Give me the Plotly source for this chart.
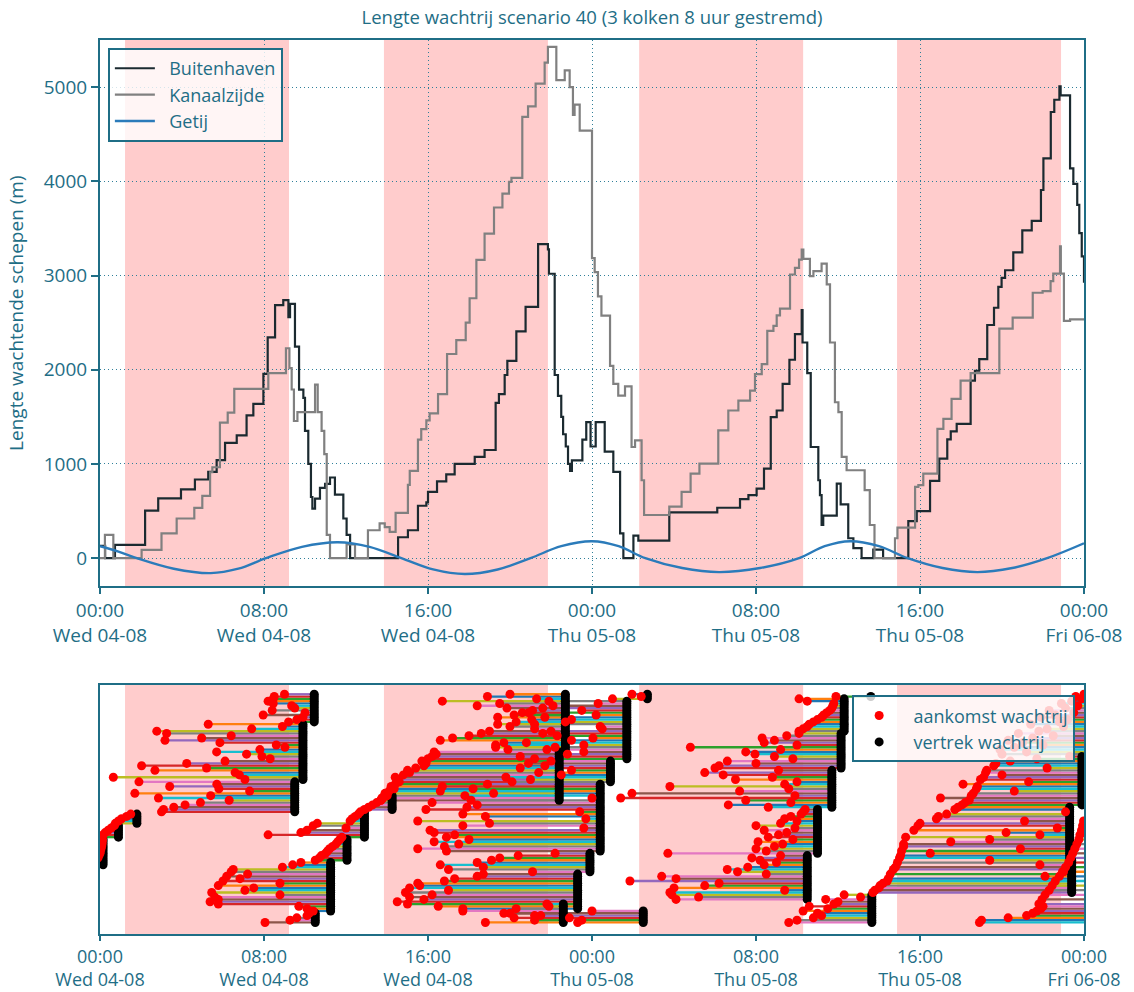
import plotly.graph_objects as go

# ---------------- data ----------------
TICK_HOURS = [0, 8, 16, 24, 32, 40, 48]
TICK_TEXT = ["00:00<br>Wed 04-08", "08:00<br>Wed 04-08", "16:00<br>Wed 04-08",
             "00:00<br>Thu 05-08", "08:00<br>Thu 05-08", "16:00<br>Thu 05-08",
             "00:00<br>Fri 06-08"]

BLOCK_START = [1.22, 13.85, 26.3, 38.88]
BLOCK_END = [9.22, 21.85, 34.3, 46.88]

BUITEN_H = [0.0, 0.25, 0.73, 2.2, 2.84, 3.95, 4.63, 5.28, 5.69, 6.1,
            6.67, 7.15, 7.48, 7.97, 8.18, 8.54, 8.94, 9.19, 9.27, 9.51,
            9.71, 9.92, 10.0, 10.16, 10.29, 10.36, 10.49, 10.73, 10.98, 11.22,
            11.46, 11.87, 12.03, 12.2, 14.54, 15.02, 15.51, 15.92, 16.0, 16.44,
            16.89, 17.3, 18.28, 18.76, 19.3, 19.46, 19.74, 19.87, 20.31, 20.76,
            21.37, 21.85, 21.9, 22.18, 22.34, 22.5, 22.59, 22.72, 22.83, 22.93,
            23.02, 23.53, 23.72, 23.93, 24.18, 24.62, 25.04, 25.37, 25.53, 26.02,
            26.26, 27.77, 30.11, 31.22, 31.63, 32.03, 32.39, 32.72, 33.01, 33.3,
            33.63, 33.9, 34.23, 34.27, 34.5, 34.67, 35.04, 35.12, 35.2, 35.28,
            35.94, 36.13, 36.5, 36.75, 37.15, 37.72, 38.2, 39.43, 39.84, 40.49,
            40.94, 41.33, 41.5, 41.79, 42.47, 42.68, 42.89, 43.28, 43.61, 43.82,
            43.98, 44.15, 44.55, 44.99, 45.45, 45.9, 46.02, 46.38, 46.55, 46.8,
            46.86, 47.32, 47.48, 47.67, 47.77, 47.89, 48.0]
BUITEN_V = [130, 0, 140, 504, 634, 729, 835, 916, 1040, 1223,
            1304, 1515, 1638, 1956, 2343, 2685, 2738, 2558, 2700, 2246,
            1789, 1702, 1351, 1000, 649, 526, 632, 747, 789, 856,
            674, 421, 246, 0, 222, 296, 556, 593, 704, 815,
            889, 1000, 1074, 1148, 1648, 1741, 1944, 2093, 2407, 2667,
            3333, 3278, 3019, 1944, 1722, 1500, 1315, 1185, 1000, 926,
            1037, 1259, 1444, 1185, 1444, 1130, 915, 264, 0, 239,
            187, 486, 535, 627, 669, 739, 951, 1496, 1567, 1849,
            2106, 2377, 2634, 2289, 1965, 1180, 827, 669, 352, 451,
            792, 570, 211, 106, 0, 90, 0, 394, 500, 820,
            1056, 1261, 1345, 1426, 1884, 1989, 2113, 2475, 2658, 2880,
            2975, 3056, 3246, 3479, 3581, 3908, 4243, 4736, 4866, 5007,
            4912, 4137, 3972, 3750, 3451, 3204, 2923]

KANAAL_H = [0.0, 0.24, 0.65, 2.03, 3.0, 3.74, 4.6, 4.99, 5.37, 5.48,
            5.85, 6.23, 6.55, 8.21, 9.07, 9.24, 9.35, 9.46, 9.63, 10.49,
            10.62, 10.81, 10.94, 11.06, 11.22, 12.03, 12.44, 13.07, 13.64, 13.89,
            14.13, 14.42, 15.02, 15.11, 15.51, 15.67, 15.92, 16.08, 16.49, 16.93,
            17.38, 17.84, 18.03, 18.36, 18.76, 19.22, 19.63, 19.95, 20.07, 20.6,
            20.88, 21.25, 21.69, 21.85, 22.26, 22.67, 22.91, 23.07, 23.15, 23.4,
            24.0, 24.13, 24.29, 24.46, 24.88, 25.04, 25.28, 25.61, 25.93, 26.1,
            26.42, 26.54, 27.77, 28.37, 28.81, 29.24, 30.16, 30.65, 31.14, 31.71,
            31.95, 32.28, 32.55, 32.85, 33.01, 33.17, 33.66, 33.9, 34.1, 34.23,
            34.31, 34.63, 34.8, 35.2, 35.45, 35.61, 35.85, 36.02, 36.18, 36.42,
            37.3, 37.55, 37.78, 38.78, 38.9, 39.76, 39.92, 40.16, 40.85, 41.14,
            41.54, 41.98, 42.47, 43.87, 44.52, 45.5, 45.98, 46.37, 46.5, 46.83,
            46.87, 47.02, 47.32, 48.0]
KANAAL_V = [0, 246, 0, 88, 263, 421, 533, 660, 912, 965,
            1439, 1544, 1796, 1965, 2228, 2018, 1790, 1456, 1551, 1842,
            1551, 1351, 1105, 246, 0, 147, 0, 296, 370, 330,
            278, 481, 778, 926, 1259, 1370, 1463, 1537, 1741, 2167,
            2315, 2500, 2759, 3167, 3444, 3722, 3870, 3993, 4037, 4685,
            4796, 5037, 5259, 5426, 5074, 5178, 5000, 4704, 4815, 4537,
            3185, 3037, 2778, 2574, 2042, 1849, 1725, 1824, 1180, 1250,
            827, 458, 546, 704, 898, 1004, 1356, 1567, 1673, 1778,
            1954, 2060, 2412, 2465, 2577, 2648, 3011, 3081, 3169, 3275,
            3176, 2993, 3046, 3127, 2905, 2289, 1655, 1549, 1074, 933,
            722, 352, 0, 211, 324, 757, 775, 898, 1373, 1479,
            1690, 1884, 1965, 2437, 2553, 2817, 2835, 2940, 3021, 3310,
            3021, 2518, 2535, 2535]

TIDE_H = [0.0, 0.9, 1.8, 3.6, 5.4, 6.75, 8.1, 9.85, 11.6, 13.15, 14.7, 16.25,
          17.8, 19.4, 21.0, 22.5, 24.0, 25.3, 26.6, 28.4, 30.2, 32.2, 34.1,
          35.35, 36.6, 38.0, 39.4, 41.1, 42.8, 44.5, 46.2, 48.0]
TIDE_V = [127, 70, 0, -112, -159, -112, 0, 120, 169, 120, 0, -120,
          -169, -120, 0, 127, 180, 127, 0, -105, -148, -105, 0,
          127, 180, 127, 0, -105, -148, -105, 0, 158]

# ships in the queue, grouped per lock departure:
# departure hour, first row, row step, arrival hours
LOCK_DEP = [0.15, 0.9, 1.8, 9.5, 9.9, 10.45, 10.5, 11.25, 12.05, 12.9, 14.25,
            22.6, 23.3, 23.9, 24.4, 22.4, 24.9, 22.7, 25.7, 26.7, 26.5,
            36.3, 37.6, 36.15, 35.7, 35.0, 34.5, 37.65,
            47.3, 47.9, 47.4, 48.6, 48.6, 48.6]
FIRST_ROW = [28, 40, 46, 51, 65, 90, 3, 8, 30, 40, 52,
             3, 9, 25, 34, 56, 64, 78, 74, 100, 3,
             86, 101, 70, 53, 33, 13, 3,
             31, 54, 16, 3, 76, 11]
ROW_STEP = [1, 1, 1, 1, 1, 1, 1, 1, 1, 1, 1,
            1, 1, 1, 1, 1, 1, 1, 1, 1, 1,
            1, 1, 1, 1, 1, 1, 1,
            1, 1, 1, 1, 1, 2]
ARRIVALS = [
    [-0.4, -0.3, -0.2, -0.1, -0.05, 0.0, 0.02, 0.05, 0.08, 0.1, 0.11, 0.12],
    [0.1, 0.15, 0.25, 0.4, 0.55, 0.7],
    [0.75, 0.9, 1.05, 1.3, 1.5],
    [3.0, 3.1, 3.6, 4.15, 4.9, 6.3, 2.85, 5.4, 1.7, 7.3, 5.8, 3.4, 5.7, 1.9],
    [7.07, 0.65, 6.8, 6.59, 2.68, 5.2, 2.03, 4.23, 6.1, 8.3, 7.9, 7.15, 5.69,
     7.8, 9.02, 8.6, 5.85, 3.17, 4.96, 6.4, 3.25, 2.77, 7.4, 8.9, 5.28],
    [9.2, 9.6, 9.9, 7.96, 10.0, 8.4, 9.5, 9.35, 8.45, 8.2, 8.45, 8.5, 9.0],
    [8.05, 9.27, 9.6, 10.1, 10.2],
    [10.4, 10.1, 9.7, 5.77, 5.37, 5.77, 5.6, 8.78, 5.45, 7.07, 7.5, 5.77,
     8.78, 6.0, 6.83, 6.18, 7.2, 6.4, 6.5, 8.9, 9.4, 9.8],
    [10.5, 10.7, 10.8, 11.0, 11.1, 11.2, 11.35, 11.5, 11.6, 11.7],
    [11.8, 8.2, 9.8, 10.1, 12.0, 10.4, 10.6, 12.2, 12.3, 12.45, 12.6, 12.7],
    [12.9, 13.1, 13.3, 13.5, 13.7, 13.8, 14.0],
    [18.8, 21.2, 20.2, 21.2, 19.7, 17.7, 20.3, 21.9, 21.8],
    [17.7, 16.5, 15.0, 14.5, 15.8, 15.1, 16.2, 14.9, 17.0, 15.1, 15.6, 15.5,
     16.8, 17.3, 18.4, 18.7],
    [21.1, 17.0, 18.7, 16.6, 18.4, 19.1, 19.5, 20.4, 22.2],
    [16.9, 15.5, 16.8, 17.5, 16.3, 18.0, 16.9, 17.3, 16.3, 16.1, 23.6, 17.7,
     19.0, 15.5, 23.7, 18.8, 17.7, 23.4, 15.9, 17.9, 18.4, 16.2, 18.1, 24.0,
     17.8, 19.2, 16.6, 18.2, 16.7, 18.9],
    [13.7, 13.75, 14.0, 13.9, 14.1, 14.35, 14.2, 14.4, 14.6, 14.5, 14.4, 14.8,
     15.1, 15.0, 15.4, 15.8, 15.9, 15.7, 16.0, 16.2, 16.4, 16.3],
    [20.1, 21.0, 19.8, 22.5, 21.4, 23.0, 20.5, 21.7, 20.9, 22.0],
    [19.9, 19.3, 19.3, 19.7, 16.6, 17.2, 18.0, 18.6, 19.0, 21.2, 20.0, 19.4,
     20.3, 21.06, 19.4, 20.2, 20.6, 21.1, 19.85, 18.4, 19.5, 16.7, 21.3, 18.9, 20.0],
    [21.2, 20.5, 22.8, 23.6, 21.8, 22.2, 23.6, 20.8, 23.0, 24.05, 22.3, 21.6,
     22.0, 24.5, 24.4, 21.2, 22.7, 23.0, 21.7, 24.2, 20.9, 23.5, 21.6, 22.1,
     24.3, 21.9],
    [25.0, 26.4, 25.95],
    [23.3, 23.5, 22.9, 21.5, 20.0, 24.0],
    [34.1, 34.3, 34.5, 34.6, 34.8, 35.0, 35.2, 35.3, 35.45, 35.6, 35.7, 35.75,
     35.8, 34.5, 34.1],
    [35.9],
    [30.0, 30.2, 32.0, 30.6, 33.8, 32.9, 31.95, 31.5, 33.2, 28.8, 34.0, 32.4,
     32.9, 32.3, 33.5, 34.1],
    [32.6, 30.65, 33.7, 31.5, 25.4, 33.9, 25.95, 31.2, 33.6, 27.8, 33.4, 34.0,
     31.0, 32.8, 30.4, 29.5, 33.1],
    [27.7, 32.5, 32.0, 32.9, 33.3, 32.1, 33.8, 32.6, 33.1, 33.5, 32.4, 33.9,
     32.0, 33.2, 34.0, 33.4, 33.7, 34.2, 34.3, 34.4],
    [28.1, 29.2, 27.9, 27.8, 33.4, 28.0, 29.5, 30.2, 25.85, 28.1, 27.4, 32.5,
     31.1, 30.6, 31.6, 32.4, 33.0, 32.2, 31.8, 33.2],
    [33.6, 34.0, 34.8, 35.2, 35.0, 34.3, 35.5, 34.6, 35.8, 36.0, 35.4, 37.1, 36.3],
    [39.0, 39.05, 40.5, 39.1, 44.9, 39.2, 39.2, 41.5, 43.4, 39.3, 45.85, 44.2,
     39.7, 46.7, 39.9, 40.0, 45.1, 40.8, 40.9, 41.3, 47.1, 41.7, 41.85],
    [42.05, 42.2, 42.4, 41.0, 42.5, 42.6, 44.6, 42.75, 42.8, 42.1, 45.3, 42.95,
     43.1, 44.0, 43.2, 43.25, 46.2, 43.6, 43.7, 44.4, 45.7, 47.3],
    [37.7, 37.8, 38.0, 38.05, 38.2, 38.4, 38.45, 46.1, 38.55, 47.0, 38.7, 38.8,
     45.85, 38.9, 43.4],
    [42.9, 43.0, 44.3, 45.2, 45.5, 45.7, 45.9, 46.0],
    [44.0, 45.2, 43.9, 44.6, 46.0, 45.0, 44.3, 45.5, 46.5, 44.8, 45.8, 46.2,
     47.0, 45.4, 46.8, 47.2, 45.9, 46.6, 47.5, 46.3, 47.1, 47.7, 46.9, 47.4,
     47.9, 47.6, 48.0],
    [45.8, 45.95, 46.1, 46.3, 46.45, 46.6, 46.8, 46.95, 47.1, 47.25, 47.35,
     47.45, 47.55, 47.65, 47.75, 47.8, 47.88, 47.93, 47.98],
]

# ---------------- style ----------------
TEAL = "#1f6e86"
GRID = "#2f7f99"
FONT = "Open Sans"
TAB10 = ["#1f77b4", "#ff7f0e", "#2ca02c", "#d62728", "#9467bd",
         "#8c564b", "#e377c2", "#7f7f7f", "#bcbd22", "#17becf"]
NB = "\u00a0\u00a0"

fig = go.Figure()

fig.add_trace(go.Scatter(x=BUITEN_H, y=BUITEN_V, mode="lines", name=NB + "Buitenhaven",
                         line=dict(color="#1b2a30", width=2.2, shape="hv"),
                         xaxis="x", yaxis="y", legend="legend"))
fig.add_trace(go.Scatter(x=KANAAL_H, y=KANAAL_V, mode="lines", name=NB + "Kanaalzijde",
                         line=dict(color="#808080", width=2.2, shape="hv"),
                         xaxis="x", yaxis="y", legend="legend"))
fig.add_trace(go.Scatter(x=TIDE_H, y=TIDE_V, mode="lines", name=NB + "Getij",
                         line=dict(color="#2b7bba", width=2.4, shape="spline", smoothing=1.0),
                         xaxis="x", yaxis="y", legend="legend"))

# queue segments
buckets = [([], []) for _ in TAB10]
arr_x, arr_y, dep_x, dep_y = [], [], [], []
k = 0
for dep, row0, step, arrs in zip(LOCK_DEP, FIRST_ROW, ROW_STEP, ARRIVALS):
    for i, a in enumerate(arrs):
        row = row0 + i * step
        bx, by = buckets[k % 10]
        bx += [a, dep, None]
        by += [row, row, None]
        arr_x.append(a); arr_y.append(row)
        dep_x.append(dep); dep_y.append(row)
        k += 1

for (bx, by), c in zip(buckets, TAB10):
    fig.add_trace(go.Scatter(x=bx, y=by, mode="lines", line=dict(color=c, width=2.3),
                             showlegend=False, xaxis="x2", yaxis="y2", hoverinfo="skip"))

fig.add_trace(go.Scatter(x=dep_x, y=dep_y, mode="markers", name=NB + "vertrek wachtrij",
                         marker=dict(color="black", size=9), xaxis="x2", yaxis="y2",
                         legend="legend2", legendrank=2))
fig.add_trace(go.Scatter(x=arr_x, y=arr_y, mode="markers", name=NB + "aankomst wachtrij",
                         marker=dict(color="#ff0000", size=9), xaxis="x2", yaxis="y2",
                         legend="legend2", legendrank=1))

shapes = []
for s, e in zip(BLOCK_START, BLOCK_END):
    for xr, yr in (("x", "y domain"), ("x2", "y2 domain")):
        shapes.append(dict(type="rect", xref=xr, yref=yr, x0=s, x1=e, y0=0, y1=1,
                           fillcolor="rgba(255,0,0,0.2)", line=dict(width=0), layer="below"))

axis_common = dict(showline=True, linecolor=TEAL, linewidth=2, mirror=True,
                   ticks="outside", tickcolor=TEAL, tickwidth=2, automargin=False,
                   zeroline=False)

fig.update_layout(
    width=1134, height=992,
    margin=dict(l=100, r=50, t=40, b=58, autoexpand=False),
    paper_bgcolor="white", plot_bgcolor="white",
    font=dict(family=FONT, color=TEAL, size=18),
    title=dict(text="Lengte wachtrij scenario 40 (3 kolken 8 uur gestremd)",
               x=0.5, xref="paper", xanchor="center", y=1 - 18 / 992, yanchor="middle",
               font=dict(family=FONT, size=18.5, color=TEAL)),
    shapes=shapes,
    xaxis=dict(domain=[0, 1], range=[0, 48], anchor="y", tickvals=TICK_HOURS, ticktext=TICK_TEXT,
               showgrid=True, gridcolor=GRID, griddash="1px,3px", gridwidth=1, ticklen=6,
               tickfont=dict(family=FONT, size=19, color=TEAL), **axis_common),
    yaxis=dict(domain=[0.3888, 1], range=[-300, 5500], anchor="x",
               tickvals=[0, 1000, 2000, 3000, 4000, 5000],
               showgrid=True, gridcolor=GRID, griddash="1px,3px", gridwidth=1, ticklen=7,
               tickfont=dict(family=FONT, size=19, color=TEAL),
               title=dict(text="Lengte wachtende schepen (m)", font=dict(family=FONT, size=19, color=TEAL)),
               **axis_common),
    xaxis2=dict(domain=[0, 1], range=[0, 48], anchor="y2", tickvals=TICK_HOURS, ticktext=TICK_TEXT,
                showgrid=False, ticklen=5, tickfont=dict(family=FONT, size=18, color=TEAL),
                **axis_common),
    yaxis2=dict(domain=[0, 0.2785], range=[-2, 106], anchor="x2", showgrid=False,
                showline=True, linecolor=TEAL, linewidth=2, mirror=True, ticks="",
                showticklabels=False, zeroline=False, automargin=False),
    legend=dict(x=0.008, y=0.991, xanchor="left", yanchor="top",
                bgcolor="rgba(255,255,255,0.8)", bordercolor=TEAL, borderwidth=2,
                font=dict(family=FONT, size=18, color=TEAL), itemwidth=40, tracegroupgap=0),
    legend2=dict(x=0.991, y=0.267, xanchor="right", yanchor="top",
                 bgcolor="rgba(255,255,255,0.8)", bordercolor=TEAL, borderwidth=2,
                 font=dict(family=FONT, size=18, color=TEAL), itemwidth=40, tracegroupgap=0),
    showlegend=True,
)

fig.write_html("out.html", config={"displayModeBar": False},
               post_script="document.body.style.margin='0';document.body.style.overflow='hidden';")
